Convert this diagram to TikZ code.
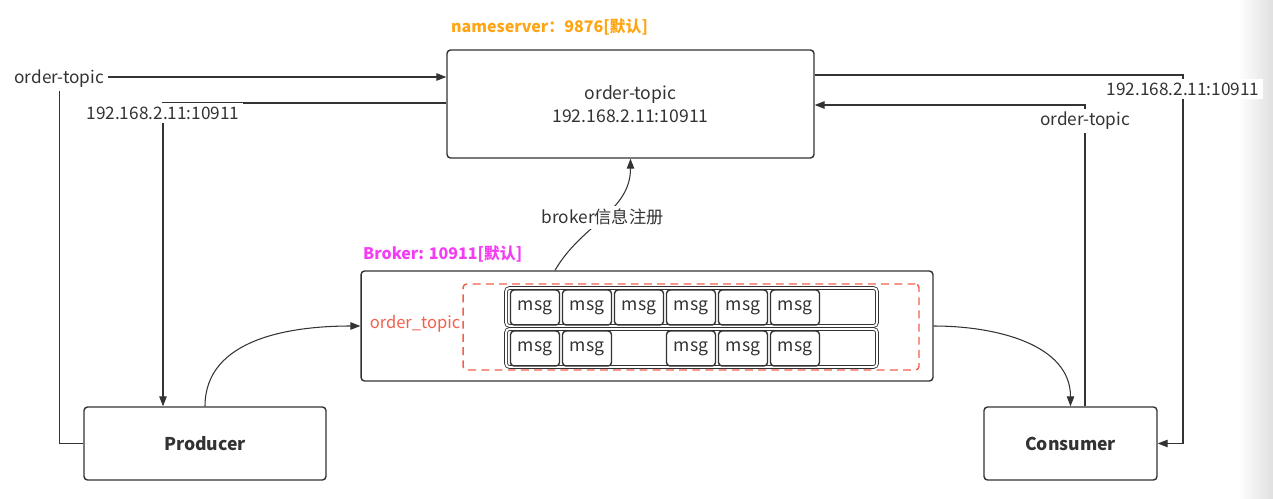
\documentclass[tikz,border=0pt]{standalone}
\usepackage{fontspec}
\setmainfont{Noto Sans CJK SC}
\usetikzlibrary{arrows.meta,positioning,calc}
\definecolor{ink}{HTML}{333333}
\definecolor{nsorange}{HTML}{FFA514}
\definecolor{brkpink}{HTML}{F33CF3}
\definecolor{topicred}{HTML}{F0604C}
\tikzset{box/.style={draw=ink,text=ink,line width=0.8pt,rounded corners=2pt,
  align=center,font=\fontsize{10}{13}\selectfont},
  msgcell/.style={draw=ink,text=ink,line width=0.8pt,rounded corners=2pt,
  minimum width=0.98cm,minimum height=0.7cm,inner sep=0pt,font=\fontsize{10}{12}\selectfont},
  qrow/.style={draw=ink,double=white,double distance=1.1pt,line width=0.5pt,
  rounded corners=2pt,minimum width=7.42cm,minimum height=0.76cm,inner sep=0pt},
  tag/.style={fill=white,text=ink,inner sep=2pt,font=\fontsize{9.8}{12}\selectfont},
  flow/.style={-{Triangle[length=2mm,width=1.5mm]},draw=ink,line width=0.6pt}}

\begin{document}
\begin{tikzpicture}[x=0.02cm,y=-0.02cm]
\useasboundingbox (0,0) rectangle (1273,499);
\shade[left color=white,right color=black!12] (1238,0) rectangle (1273,499);
% nameserver
\node[box,minimum width=7.34cm,minimum height=2.16cm] (ns) at (630.5,104) {order-topic\\192.168.2.11:10911};
\node[anchor=west,text=nsorange,font=\bfseries\fontsize{9.1}{12}\selectfont] (nstitle) at (445,27) {nameserver：9876[默认]};
% broker
\node[box,minimum width=11.44cm,minimum height=2.2cm] (broker) at (647,326) {};
\node[anchor=west,text=brkpink,font=\bfseries\fontsize{9.1}{12}\selectfont] (brktitle) at (357,254) {Broker: 10911[默认]};
\node[draw=topicred,dashed,dash pattern=on 4.5pt off 3pt,line width=0.8pt,rounded corners=2pt,
  minimum width=9.12cm,minimum height=1.72cm] (topic) at (691,327) {};
\node[text=topicred,font=\fontsize{9.4}{12}\selectfont] (tname) at (415,324) {order\_topic};
\node[qrow] (row1) at (691.5,307) {};
\node[qrow] (row2) at (691.5,348) {};
\foreach \i in {0,...,5}
  \node[msgcell] (ma\i) at (535+52*\i,307.5) {msg};
\foreach \i in {0,1,3,4,5}
  \node[msgcell] (mb\i) at (535+52*\i,348.5) {msg};
% clients
\node[box,minimum width=4.84cm,minimum height=1.46cm,font=\bfseries\fontsize{10}{12}\selectfont] (prod) at (205,443.5) {Producer};
\node[box,minimum width=3.46cm,minimum height=1.46cm,font=\bfseries\fontsize{10}{12}\selectfont] (cons) at (1070.5,443.5) {Consumer};
% routes
\draw[flow] (prod.west) -- ++(-24,0) |- (ns.west |- 0,77) node[tag,pos=0.5,yshift=-0.04cm] {order-topic};
\draw[flow] (ns.west |- 0,103) -| (prod.north -| 163,0) node[tag,pos=0.5,yshift=-0.2cm] {192.168.2.11:10911};
\draw[flow] (cons.north -| 1085,0) |- (ns.east |- 0,105) node[tag,pos=0.5,yshift=-0.32cm] {order-topic};
\draw[flow] (ns.east |- 0,75) -- (1183,75) node[tag,yshift=-0.28cm] {192.168.2.11:10911} |- (cons.east);
\draw[flow] (prod.north) to[out=90,in=180] (broker.west);
\draw[flow] (broker.east) to[out=0,in=90] (cons.north);
\draw[flow] (broker.north -| 555,0) to[out=60,in=-90] node[tag] {broker信息注册} (ns.south);
\end{tikzpicture}
\end{document}
